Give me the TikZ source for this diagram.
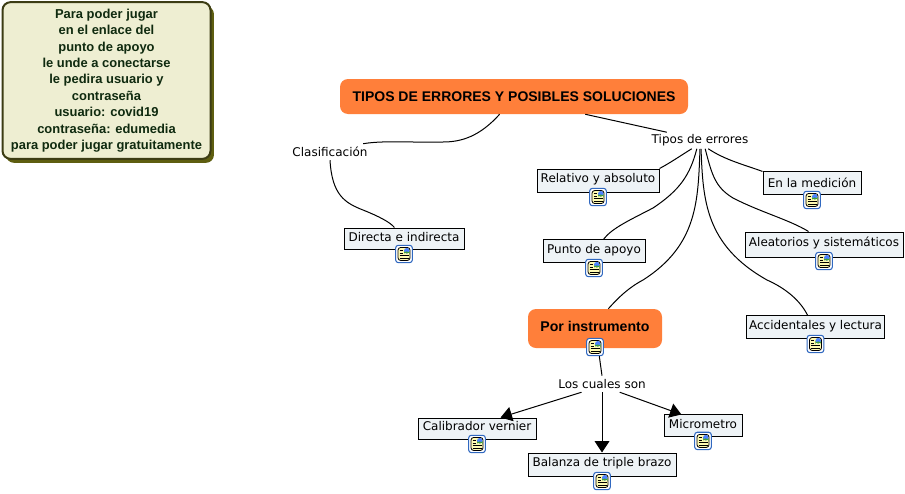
\documentclass[tikz,border=0pt]{standalone}
\usepackage{fontspec}
\setmainfont{DejaVu Sans}
\newfontfamily\arialb{Liberation Sans}
\usetikzlibrary{arrows.meta,positioning,shadows}
\definecolor{naranja}{HTML}{FF7F3A}
\definecolor{crema}{HTML}{EEEED2}
\definecolor{oliva}{HTML}{5E5E10}
\definecolor{borde}{HTML}{3C3C14}
\definecolor{verdeosc}{HTML}{0F2A0F}
\definecolor{celeste}{HTML}{EEF3F6}
\definecolor{azulicono}{HTML}{3068C0}

\begin{document}
\begin{tikzpicture}[
  x=0.75pt, y=-0.75pt,
  on grid,
  txt/.style={font=\fontsize{9}{11}\selectfont, inner xsep=0pt, inner ysep=0pt, minimum height=12pt, fill=white},
  caja/.style={rectangle, draw, line width=0.75pt, fill=celeste, font=\fontsize{9}{11}\selectfont, inner xsep=0pt, inner ysep=1pt, text height=8.5pt, text depth=5.25pt},
  tema/.style={rectangle, rounded corners=6pt, fill=naranja, font=\arialb\bfseries\fontsize{#1}{12}\selectfont, inner sep=0pt},
  icono/.style={rectangle, draw=azulicono, line width=0.8pt, rounded corners=2pt, fill=white, minimum width=12.5pt, minimum height=13pt, inner sep=0pt,
    path picture={
      \begin{scope}[shift={(path picture bounding box.center)}]
        \draw[black, line width=0.6pt, fill=yellow!30] (-6,-6.5) rectangle (6,6.5);
        \fill[blue!70!cyan!70] (0,-6) rectangle (5.5,-0.5);
        \fill[green!50!black!75] (0,-2.5) rectangle (5.5,-0.5);
        \draw[black, line width=0.6pt] (-4.5,-3.5) -- (-1,-3.5) (-4.5,-1) -- (-1,-1) (-4.5,1.5) -- (4.5,1.5) (-4.5,4) -- (4.5,4);
      \end{scope}
    }},
  linea/.style={line width=0.75pt},
  flecha/.style={line width=0.75pt, -{Triangle[length=8.5pt, width=11pt]}}
]
\useasboundingbox (0,0) rectangle (905,493);

\node[rectangle, rounded corners=6pt, draw=borde, line width=1.5pt, fill=crema, text=verdeosc,
  minimum width=156pt, minimum height=117.5pt, inner sep=0pt, align=center,
  drop shadow={shadow xshift=2.6pt, shadow yshift=-3pt, fill=oliva, opacity=1},
  font=\arialb\bfseries\fontsize{9.7}{12.3}\selectfont] (nota) at (106.5,80.5)
  {Para poder jugar\\en el enlace del\\punto de apoyo\\le unde a conectarse\\le pedira usuario y\\contraseña\\usuario: covid19\\contraseña: edumedia\\para poder jugar gratuitamente};

\node[tema=10.5, minimum width=261pt, minimum height=26.25pt] (main) at (514,96.5) {TIPOS DE ERRORES Y POSIBLES SOLUCIONES};

\node[txt, below left=41.6pt and 138pt of main]   (clasif) {Clasificación};
\node[txt, below right=33pt and 139.5pt of main] (tipos)  {Tipos de errores};

\node[caja, minimum width=90pt, text height=9pt, text depth=4.75pt, below right=64.9pt and 55.5pt of clasif] (directa) {Directa e indirecta};

\node[caja, minimum width=91.5pt, minimum height=17.25pt, below left=30pt and 76.5pt of tipos]  (relativo)   {Relativo y absoluto};
\node[caja, minimum width=73.5pt, minimum height=17.25pt, text height=9.6pt, text depth=4.15pt, below right=32.2pt and 84pt of tipos]   (medicion)   {En la medición};
\node[caja, minimum width=76.5pt, minimum height=17.25pt, below left=83.2pt and 79.5pt of tipos]  (punto)      {Punto de apoyo};
\node[caja, minimum width=118.5pt, minimum height=18.75pt, below right=78pt and 93pt of tipos]  (aleatorios) {Aleatorios y sistemáticos};
\node[caja, minimum width=104pt, minimum height=17.25pt, below right=140.2pt and 86.6pt of tipos] (accident)   {Accidentales y lectura};

\node[tema=10.6, minimum width=100.5pt, minimum height=29.25pt, text depth=2.6pt, text height=7pt, below left=141pt and 78.75pt of tipos] (instrum) {Por instrumento};

\node[txt, below right=41.6pt and 5.25pt of instrum] (cuales) {Los cuales son};

\node[caja, minimum width=88.5pt, below left=33.4pt and 93.75pt of cuales]  (calibrador) {Calibrador vernier};
\node[caja, minimum width=111pt, minimum height=17.25pt, below=60.4pt of cuales] (balanza) {Balanza de triple brazo};
\node[caja, minimum width=58.5pt, minimum height=16.5pt, below right=31.5pt and 75.75pt of cuales] (micrometro) {Micrometro};

\node[icono, below=11.6pt of directa]    (idirecta)  {};
\node[icono, below=12.4pt of relativo]   (irelativo) {};
\node[icono, below=12.4pt of medicion]   (imedicion) {};
\node[icono, below=12.4pt of punto]      (ipunto)    {};
\node[icono, below=12.4pt of aleatorios] (ialeat)    {};
\node[icono, below=12.4pt of accident]   (iaccid)    {};
\node[icono, below=13.9pt of instrum]    (iinstrum)  {};
\node[icono, below=11.6pt of calibrador] (icalib)    {};
\node[icono, below=12.4pt of balanza]    (ibalanza)  {};
\node[icono, below=11.2pt of micrometro] (imicro)    {};

\draw[linea] (main.231) .. controls (480,136) and (462,142) .. (443,142) .. controls (420,143) and (385,140) .. (clasif.14);
\draw[linea] (main.346) -- (tipos.166);
\draw[linea] (clasif.south) .. controls (332,195) and (345,203) .. (363,210) .. controls (378,216) and (390,222) .. (directa.131);

\draw[linea] (tipos.225) .. controls (680,156) and (670,163) .. (relativo.north east);
\draw[linea] (tipos.249) .. controls (690,175) and (680,190) .. (653,208) .. controls (630,220) and (612,228) .. (punto.52);
\draw[linea] (tipos.270) .. controls (698,200) and (698,245) .. (643,280) .. controls (628,288) and (618,298) .. (instrum.56);
\draw[linea] (tipos.277) .. controls (703,200) and (705,245) .. (767,280) .. controls (785,288) and (800,300) .. (accident.123);
\draw[linea] (tipos.302) .. controls (712,175) and (715,187) .. (733,198) .. controls (760,212) and (790,220) .. (aleatorios.140);
\draw[linea] (tipos.315) .. controls (725,160) and (745,165) .. (medicion.north west);

\draw[linea] (iinstrum.-65) -- (cuales.north);
\draw[flecha] (cuales.202) -- (calibrador.25);
\draw[flecha] (cuales.south) -- (balanza.north);
\draw[flecha] (cuales.-25) -- (micrometro.152);
\end{tikzpicture}
\end{document}
